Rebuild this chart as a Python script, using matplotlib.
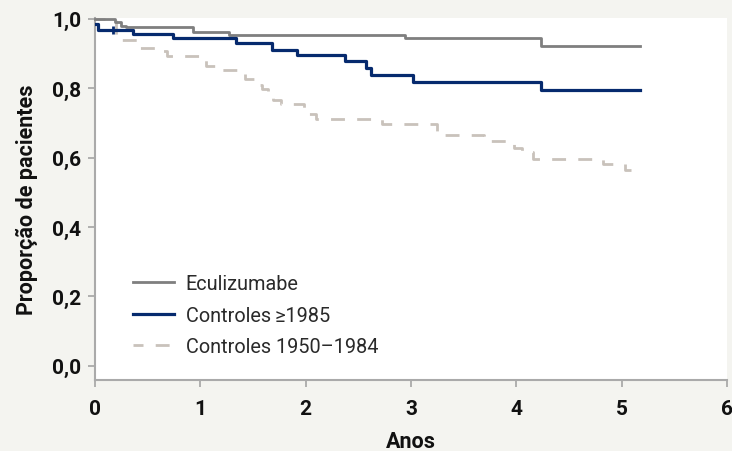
import matplotlib
matplotlib.use("Agg")
import matplotlib.pyplot as plt

plt.rcParams['font.family'] = ['Roboto', 'DejaVu Sans']

# Data (step functions: time in years, survival proportion)
ecu_t = [0.0, 0.19, 0.25, 0.29, 0.93, 1.27, 2.94, 4.23, 5.17]
ecu_s = [1.0, 0.99, 0.98, 0.975, 0.963, 0.954, 0.943, 0.92, 0.92]

c85_t = [0.0, 0.03, 0.36, 0.74, 1.34, 1.68, 1.92, 2.37, 2.57, 2.62, 3.02, 4.23, 5.17]
c85_s = [0.986, 0.968, 0.957, 0.943, 0.930, 0.911, 0.895, 0.877, 0.858, 0.837, 0.818, 0.794, 0.794]
c85_cens_t = [0.17]
c85_cens_s = [0.966]

c50_t = [0.0, 0.20, 0.43, 0.60, 0.68, 1.05, 1.17, 1.38, 1.42, 1.53, 1.59,
         1.64, 1.69, 1.77, 1.98, 2.02, 2.10, 2.72, 3.25, 3.69, 3.98, 4.05, 4.16, 4.82,
         5.03, 5.09]
c50_s = [1.0, 0.94, 0.916, 0.906, 0.892, 0.863, 0.851, 0.840, 0.825, 0.810,
         0.796, 0.782, 0.767, 0.753, 0.740, 0.724, 0.711, 0.696, 0.664, 0.649, 0.628,
         0.615, 0.597, 0.580, 0.564, 0.564]

labels = ['Eculizumabe', 'Controles\u2009\u22651985', 'Controles 1950\u20131984']
x_ticks = [0, 1, 2, 3, 4, 5, 6]
y_ticks = [0.0, 0.2, 0.4, 0.6, 0.8, 1.0]
y_ticklabels = ['0,0', '0,2', '0,4', '0,6', '0,8', '1,0']

bg = '#f4f4f0'
c_gray = '#7f7f7f'
c_blue = '#062a6e'
c_dash = '#c9c2bb'
c_axis = '#aaaaaa'
txt = '#111111'

fig = plt.figure(figsize=(7.32, 4.52), dpi=100, facecolor=bg)
ax = fig.add_axes([95/732, 71/452, 632/732, 362/452])
ax.set_facecolor('white')

ax.step(c50_t, c50_s, where='post', color=c_dash, lw=2.0, ls=(1.4, (5.0, 4.4)),
        label=labels[2], zorder=2, dash_capstyle='butt')
ax.step(ecu_t, ecu_s, where='post', color=c_gray, lw=2.0, label=labels[0], zorder=3,
        clip_on=False)
ax.step(c85_t, c85_s, where='post', color=c_blue, lw=2.3, label=labels[1], zorder=4)
ax.plot(c85_cens_t, c85_cens_s, marker='|', ms=6, mew=2, color=c_blue, ls='none', zorder=4)

ax.set_xlim(0, 6)
ax.set_ylim(-0.041, 1.002)
ax.set_xticks(x_ticks)
ax.set_xticklabels([str(v) for v in x_ticks])
ax.set_yticks(y_ticks)
ax.set_yticklabels(y_ticklabels)

for s in ['top', 'right']:
    ax.spines[s].set_visible(False)
for s in ['left', 'bottom']:
    ax.spines[s].set_color(c_axis)
    ax.spines[s].set_linewidth(1.5)

ax.tick_params(axis='x', length=5, width=1.3, color=c_axis, pad=8.5,
               labelsize=15, labelcolor=txt)
ax.tick_params(axis='y', length=5, width=1.3, color=c_axis, pad=5,
               labelsize=15, labelcolor=txt)
for lab in ax.get_xticklabels() + ax.get_yticklabels():
    lab.set_fontweight('bold')

ax.set_xlabel('Anos', fontsize=15.5, fontweight='bold', color=txt, labelpad=9)
ax.set_ylabel('Proporção de pacientes', fontsize=15.5, fontweight='bold', color=txt,
              labelpad=10)

handles, labs = ax.get_legend_handles_labels()
order = [labs.index(l) for l in labels]
leg = ax.legend([handles[i] for i in order], [labs[i] for i in order],
                loc='lower left', bbox_to_anchor=(38/632, 24/362), frameon=False,
                borderaxespad=0, borderpad=0,
                fontsize=14.3, handlelength=2.06, handletextpad=0.6, labelspacing=0.62)
for t in leg.get_texts():
    t.set_color('#2a2a2a')

fig.savefig('out.png', dpi=100, facecolor=bg)
